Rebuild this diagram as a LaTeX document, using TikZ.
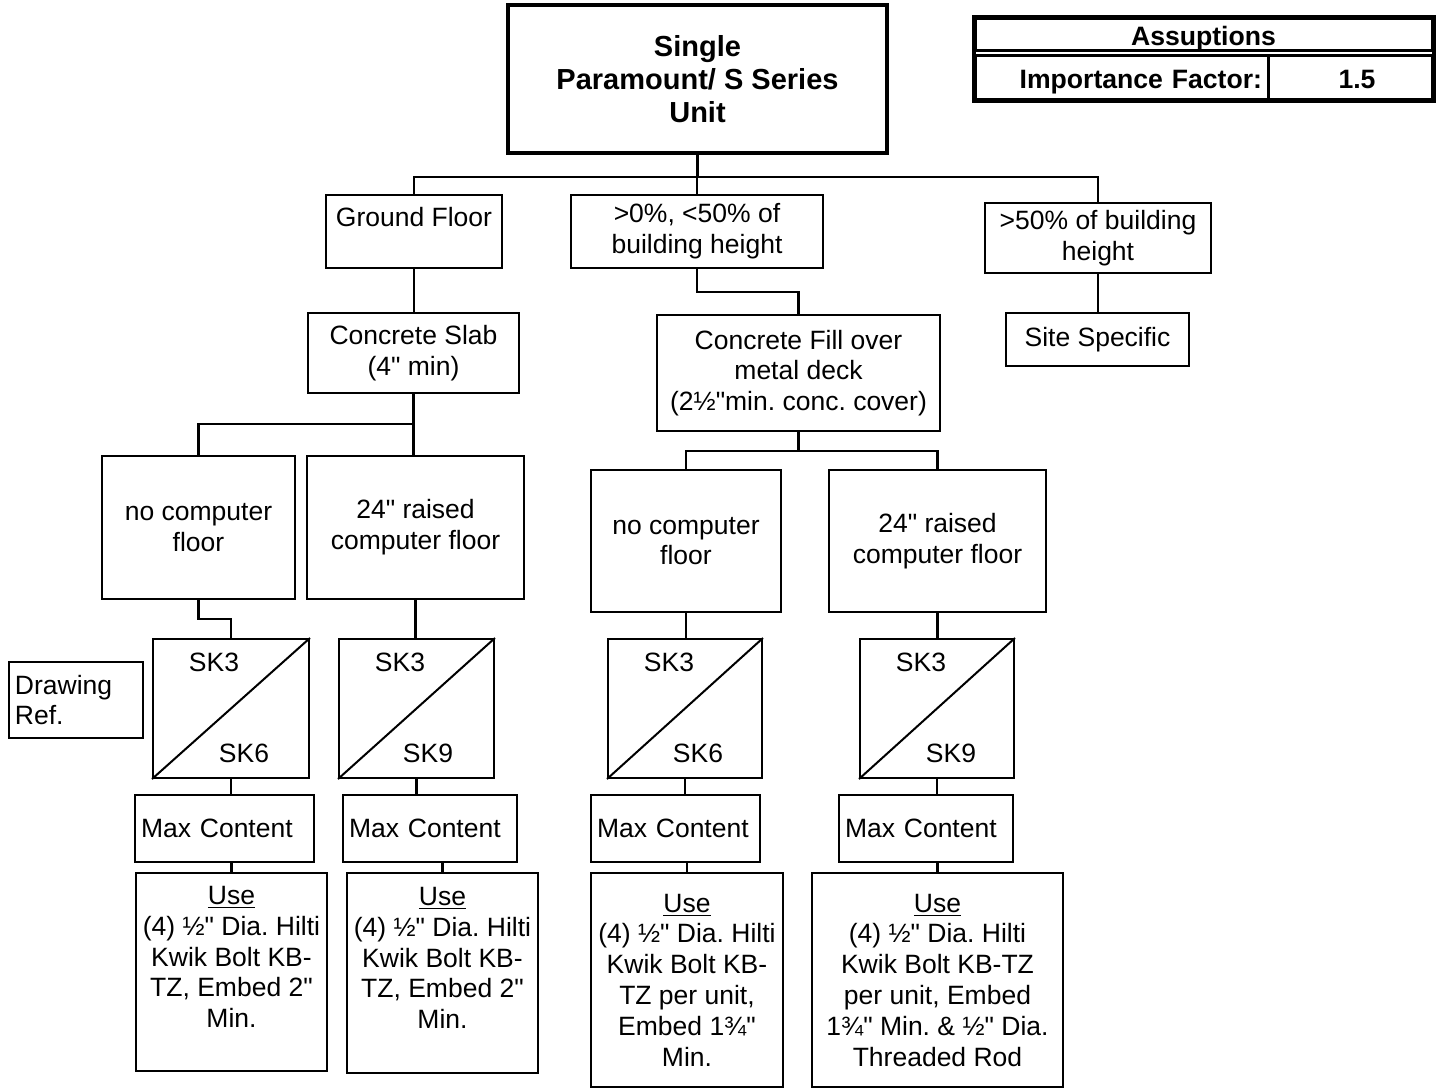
\documentclass[tikz,border=0pt]{standalone}
\usepackage{fontspec}
\setmainfont{Liberation Sans}[Ligatures=TeXOff]
\usepackage{tikz}
\frenchspacing

\begin{document}
\begin{tikzpicture}[x=0.5pt, y=-0.5pt,
    txt/.style={font=\fontsize{13.25}{15.4}\selectfont},
    bold/.style={font=\bfseries\fontsize{13.3}{15.4}\selectfont, text height=11pt, text depth=0pt},
    box/.style={draw, line width=1pt, inner sep=0pt, align=center, txt},
    wh/.style 2 args={minimum width=#1*0.5pt, minimum height=#2*0.5pt},
    lbox/.style={box, align=left, inner xsep=3pt, text width=#1*0.5pt-6pt},
    link/.style={line width=1.25pt}]
    \useasboundingbox (0, 0) rectangle (1436, 1088);
    % unit
    \node [box, wh={379}{148}, line width=1.8pt,
           font=\bfseries\fontsize{14.5}{16.5}\selectfont] (unit) at (697.5, 79) {Single\\Paramount/ S Series\\Unit};
    % assumptions
    \node [box, wh={457}{32}, bold, line width=1.5pt] (asm) at (1203.5, 34) {Assuptions};
    \node [box, bold, line width=1.5pt, align=right, inner xsep=3pt, text width=140.5pt,
           minimum height=22pt] (imp) at (1121.5, 77) {Importance Factor:};
    \node [box, wh={164}{44}, bold, line width=1.5pt] (fac) at (1350, 77) {\hspace*{7pt}1.5};
    \draw [line width=2pt] (asm.north west) rectangle (fac.south east);
    % heights
    \node [box, wh={176}{73}, text depth=15pt] (ground) at (414, 231.5) {Ground Floor};
    \node [box, wh={252}{73}] (mid)  at (697, 231.5) {>0\%, <50\% of\\building height};
    \node [box, wh={226}{70}] (high) at (1098, 238) {>50\% of building\\height};
    \node [box, wh={183}{53}] (site) at (1097.5, 339.5) {Site Specific};
    % slabs
    \node [box, wh={211}{80}]  (slab) at (413.5, 353) {Concrete Slab\\(4" min)};
    \node [box, wh={283}{116}] (fill) at (798.5, 373) {Concrete Fill over\\metal deck\\(2½"min. conc. cover)};
    % floors
    \node [box, wh={193}{143}] (nocf1)  at (198.5, 527.5) {no computer\\floor};
    \node [box, wh={217}{143}] (raise1) at (415.5, 527.5) {24" raised\\computer floor};
    \node [box, wh={190}{142}] (nocf2)  at (686, 541) {no computer\\floor};
    \node [box, wh={217}{142}] (raise2) at (937.5, 541) {24" raised\\computer floor};
    % drawing refs
    \node [lbox=134, minimum height=38pt] (dref) at (76, 700) {Drawing\\Ref.};
    \node [box, wh={156}{139}] (sk1) at (231, 708.5) {};
    \node [box, wh={155}{139}] (sk2) at (416.5, 708.5) {};
    \node [box, wh={154}{139}] (sk3) at (685, 708.5) {};
    \node [box, wh={154}{139}] (sk4) at (937, 708.5) {};
    \draw [line width=1pt] (sk1.south west) -- (sk1.north east);
    \draw [line width=1pt] (sk2.south west) -- (sk2.north east);
    \draw [line width=1pt] (sk3.south west) -- (sk3.north east);
    \draw [line width=1pt] (sk4.south west) -- (sk4.north east);
    \node [txt, inner sep=0pt] (sk1a) at (214, 662) {SK3};
    \node [txt, inner sep=0pt] (sk1b) at (244, 753) {SK6};
    \node [txt, inner sep=0pt] (sk2a) at (400, 662) {SK3};
    \node [txt, inner sep=0pt] (sk2b) at (428, 753) {SK9};
    \node [txt, inner sep=0pt] (sk3a) at (669, 662) {SK3};
    \node [txt, inner sep=0pt] (sk3b) at (698, 753) {SK6};
    \node [txt, inner sep=0pt] (sk4a) at (921, 662) {SK3};
    \node [txt, inner sep=0pt] (sk4b) at (951, 753) {SK9};
    % contents
    \node [lbox=179, minimum height=33.5pt] (mc1) at (224.5, 828.5) {Max Content};
    \node [lbox=174, minimum height=33.5pt] (mc2) at (430, 828.5) {Max Content};
    \node [lbox=169, minimum height=33.5pt] (mc3) at (675.5, 828.5) {Max Content};
    \node [lbox=174, minimum height=33.5pt] (mc4) at (926, 828.5) {Max Content};
    % anchors
    \node [box, wh={191}{198}, text depth=15pt] (use1) at (231.5, 972)
          {\underline{Use}\\(4) ½" Dia. Hilti\\Kwik Bolt KB-\\TZ, Embed 2"\\Min.};
    \node [box, wh={191}{200}, text depth=15pt] (use2) at (442.5, 973)
          {\underline{Use}\\(4) ½" Dia. Hilti\\Kwik Bolt KB-\\TZ, Embed 2"\\Min.};
    \node [box, wh={192}{214}] (use3) at (687, 980)
          {\underline{Use}\\(4) ½" Dia. Hilti\\Kwik Bolt KB-\\TZ per unit,\\Embed 1¾"\\Min.};
    \node [box, wh={251}{214}] (use4) at (937.5, 980)
          {\underline{Use}\\(4) ½" Dia. Hilti\\Kwik Bolt KB-TZ\\per unit, Embed\\1¾" Min. \& ½" Dia.\\Threaded Rod};
    % links
    \coordinate (bus1) at (697.5, 177);
    \coordinate (bus2) at (413.5, 424);
    \coordinate (bus3) at (798.5, 451);
    \draw [link] (unit.south) -- (bus1);
    \draw [link] (ground.north) |- (bus1) -| (high.north);
    \draw [link] (mid.north) -- (mid.north |- bus1);
    \draw [link] (ground.south) -- (ground.south |- slab.north);
    \draw [link] (mid.south) -- ++(0, 23) -| (fill.north);
    \draw [link] (high.south) -- (high.south |- site.north);
    \draw [link] (slab.south) -- (slab.south |- raise1.north);
    \draw [link] (nocf1.north) |- (bus2);
    \draw [link] (fill.south) -- (bus3);
    \draw [link] (nocf2.north) |- (bus3) -| (raise2.north);
    \draw [link] (nocf1.south) -- ++(0, 19) -| (sk1.north);
    \draw [link] (raise1.south) -- (raise1.south |- sk2.north);
    \draw [link] (nocf2.south) -- (nocf2.south |- sk3.north);
    \draw [link] (raise2.south) -- (raise2.south |- sk4.north);
    \draw [link] (sk1.south) -- (sk1.south |- mc1.north);
    \draw [link] (sk2.south) -- (sk2.south |- mc2.north);
    \draw [link] (sk3.south) -- (sk3.south |- mc3.north);
    \draw [link] (sk4.south) -- (sk4.south |- mc4.north);
    \draw [link] (use1.north |- mc1.south) -- (use1.north);
    \draw [link] (use2.north |- mc2.south) -- (use2.north);
    \draw [link] (use3.north |- mc3.south) -- (use3.north);
    \draw [link] (use4.north |- mc4.south) -- (use4.north);
  \end{tikzpicture}
\end{document}
